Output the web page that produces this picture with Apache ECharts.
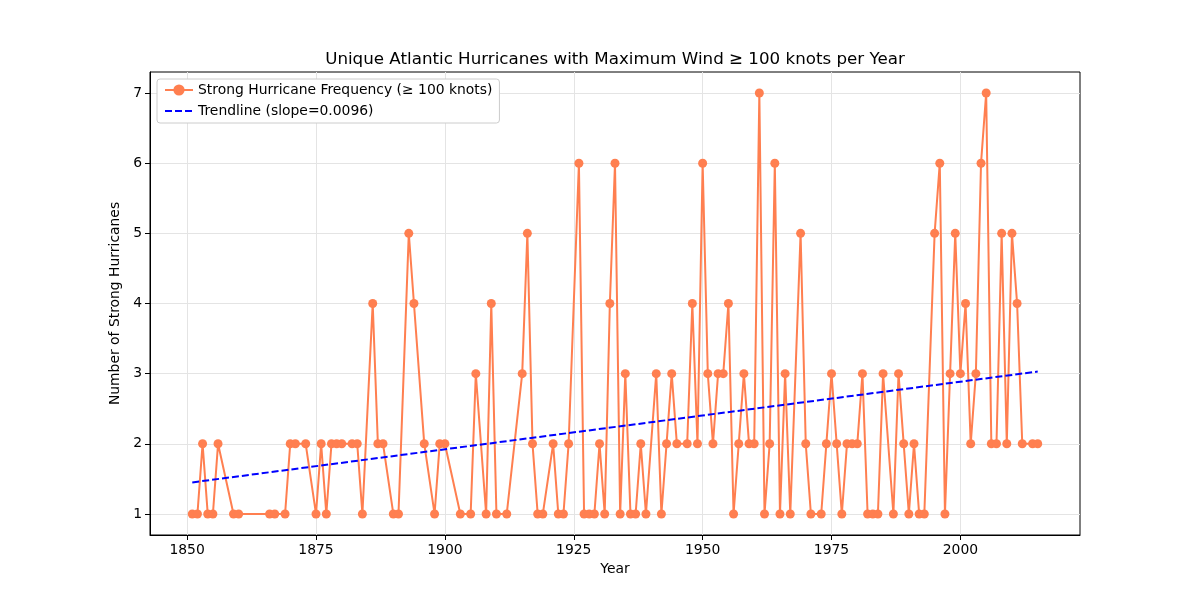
<!DOCTYPE html>
<html>
<head>
<meta charset="utf-8">
<script src="https://cdn.jsdelivr.net/npm/echarts@6/dist/echarts.min.js"></script>
<style>
  html, body { margin: 0; padding: 0; background: #fff; }
  #chart { width: 1200px; height: 600px; }
</style>
</head>
<body>
<div id="chart"></div>
<script>
// years with at least one storm of >= 100 kt, and how many
var years = [
  1851, 1852, 1853, 1854, 1855, 1856, 1859, 1860, 1866, 1867, 1869, 1870, 1871, 1873,
  1875, 1876, 1877, 1878, 1879, 1880, 1882, 1883, 1884, 1886, 1887, 1888, 1890, 1891,
  1893, 1894, 1896, 1898, 1899, 1900, 1903, 1905, 1906, 1908, 1909, 1910, 1912, 1915,
  1916, 1917, 1918, 1919, 1921, 1922, 1923, 1924, 1926, 1927, 1928, 1929, 1930, 1931,
  1932, 1933, 1934, 1935, 1936, 1937, 1938, 1939, 1941, 1942, 1943, 1944, 1945, 1947,
  1948, 1949, 1950, 1951, 1952, 1953, 1954, 1955, 1956, 1957, 1958, 1959, 1960, 1961,
  1962, 1963, 1964, 1965, 1966, 1967, 1969, 1970, 1971, 1973, 1974, 1975, 1976, 1977,
  1978, 1979, 1980, 1981, 1982, 1983, 1984, 1985, 1987, 1988, 1989, 1990, 1991, 1992,
  1993, 1995, 1996, 1997, 1998, 1999, 2000, 2001, 2002, 2003, 2004, 2005, 2006, 2007,
  2008, 2009, 2010, 2011, 2012, 2014, 2015
];
var counts = [
  1, 1, 2, 1, 1, 2, 1, 1, 1, 1, 1, 2, 2, 2,
  1, 2, 1, 2, 2, 2, 2, 2, 1, 4, 2, 2, 1, 1,
  5, 4, 2, 1, 2, 2, 1, 1, 3, 1, 4, 1, 1, 3,
  5, 2, 1, 1, 2, 1, 1, 2, 6, 1, 1, 1, 2, 1,
  4, 6, 1, 3, 1, 1, 2, 1, 3, 1, 2, 3, 2, 2,
  4, 2, 6, 3, 2, 3, 3, 4, 1, 2, 3, 2, 2, 7,
  1, 2, 6, 1, 3, 1, 5, 2, 1, 1, 2, 3, 2, 1,
  2, 2, 2, 3, 1, 1, 1, 3, 1, 3, 2, 1, 2, 1,
  1, 5, 6, 1, 3, 5, 3, 4, 2, 3, 6, 7, 2, 2,
  5, 2, 5, 4, 2, 2, 2
];
// trendline ends
var trendYears = [1851, 2015];
var trendValues = [1.45, 3.03];

var xTicks = [1850, 1875, 1900, 1925, 1950, 1975, 2000];
var yTicks = [1, 2, 3, 4, 5, 6, 7];

var mainName = 'Strong Hurricane Frequency (\u2265 100 knots)';
var trendName = 'Trendline (slope=0.0096)';

var mainData = years.map(function (y, i) { return [y, counts[i]]; });
var trendData = trendYears.map(function (y, i) { return [y, trendValues[i]]; });

var font = 'DejaVu Sans';
var chart = echarts.init(document.getElementById('chart'));

chart.setOption({
  animation: false,
  textStyle: { fontFamily: font },
  title: {
    text: 'Unique Atlantic Hurricanes with Maximum Wind \u2265 100 knots per Year',
    left: 615,
    textAlign: 'center',
    top: 51,
    padding: 0,
    textStyle: { fontFamily: font, fontSize: 16.7, fontWeight: 'normal', color: '#000' }
  },
  legend: {
    orient: 'vertical',
    left: 157,
    top: 79,
    padding: [4, 7, 5, 7],
    itemGap: 7,
    itemWidth: 28,
    itemHeight: 14,
    backgroundColor: '#fff',
    borderColor: '#cccccc',
    borderWidth: 1,
    borderRadius: 3,
    textStyle: { fontFamily: font, fontSize: 13.9, color: '#000' },
    data: [
      mainName,
      { name: trendName, itemStyle: { color: 'rgba(0,0,0,0)', borderWidth: 0 } }
    ]
  },
  grid: {
    left: 150, right: 120, top: 72, bottom: 65,
    show: true, borderColor: '#000', borderWidth: 1,
    containLabel: false
  },
  xAxis: {
    type: 'value',
    min: 1842.8,
    max: 2023.2,
    name: 'Year',
    nameLocation: 'middle',
    nameGap: 27,
    nameTextStyle: { fontFamily: font, fontSize: 13.9, color: '#000' },
    axisLine: { show: true, lineStyle: { color: '#000', width: 1 } },
    axisTick: { show: true, length: 5, lineStyle: { color: '#000' }, customValues: xTicks },
    axisLabel: {
      fontFamily: font, fontSize: 13.9, color: '#000', margin: 8, customValues: xTicks,
      formatter: function (v) { return String(v); }
    },
    splitLine: { show: true, lineStyle: { color: '#e4e4e4', width: 1 } }
  },
  yAxis: {
    type: 'value',
    min: 0.7,
    max: 7.3,
    name: 'Number of Strong Hurricanes',
    nameLocation: 'middle',
    nameGap: 23,
    nameRotate: 90,
    nameTextStyle: { fontFamily: font, fontSize: 13.9, color: '#000' },
    axisLine: { show: true, lineStyle: { color: '#000', width: 1 } },
    axisTick: { show: true, length: 5, lineStyle: { color: '#000' }, customValues: yTicks },
    axisLabel: { fontFamily: font, fontSize: 13.9, color: '#000', margin: 8, customValues: yTicks },
    splitLine: { show: true, lineStyle: { color: '#e4e4e4', width: 1 } }
  },
  series: [
    {
      name: mainName,
      type: 'line',
      data: mainData,
      symbol: 'circle',
      symbolSize: 9,
      showAllSymbol: true,
      itemStyle: { color: '#FF7F50' },
      lineStyle: { color: '#FF7F50', width: 2 },
      z: 2
    },
    {
      name: trendName,
      type: 'line',
      data: trendData,
      symbol: 'none',
      itemStyle: { color: '#0000FF' },
      lineStyle: { color: '#0000FF', width: 2, type: [7, 3] },
      z: 3
    }
  ]
});
</script>
</body>
</html>
